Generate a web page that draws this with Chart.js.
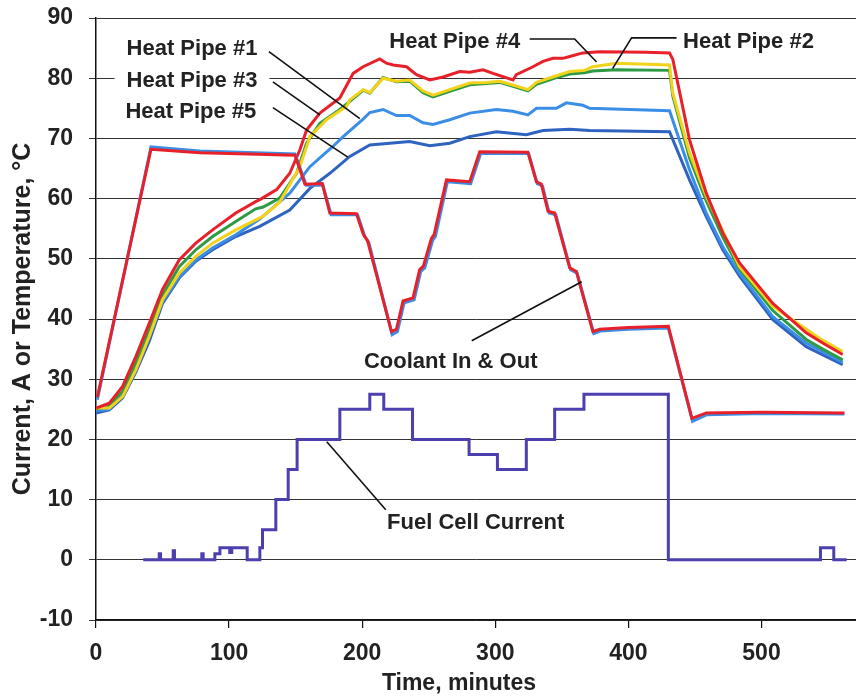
<!DOCTYPE html>
<html>
<head>
<meta charset="utf-8">
<script src="https://cdn.jsdelivr.net/npm/chart.js@4.4.1/dist/chart.umd.min.js"></script>
<style>
  html, body { margin: 0; padding: 0; background: #fff; }
  #wrap { width: 856px; height: 697px; position: relative; }
</style>
</head>
<body>
<div id="wrap"><canvas id="chart"></canvas></div>
<script>
// [minutes, value]
const heatPipe1 = [[0,24.8],[10,25.0],[20,27.3],[30,31.8],[40,37.0],[50,42.9],[62.5,47.0],[75,49.8],[87.6,51.8],[105,54.0],[123,56.6],
  [145.6,60.9],[160.7,65.3],[178.2,68.7],[185.7,70.3],[200.7,73.2],[205.7,74.3],[215.7,74.8],[225.7,73.8],[235.7,73.8],[245.7,72.6],
  [253.2,72.3],[265.8,73.1],[280.8,74.2],[300.8,74.8],[313.3,74.5],[324.5,73.9],[330.9,75.0],[345.9,75.0],[353.4,75.9],[365.8,75.5],
  [370.9,75.0],[400.9,74.8],[430.9,74.6],[445.9,64.8],[458.5,57.6],[470.9,52.0],[483.5,47.6],[508.5,40.4],[533.6,36.0],[561,32.8]];
const heatPipe2 = [[0,25.0],[10,25.6],[20,28.0],[30,32.8],[40,38.2],[50,44.0],[62.5,48.7],[75,51.5],[87.6,53.7],[105,56.2],[120,58.3],
  [125.6,58.6],[138,60.1],[150.7,64.2],[158.2,69.2],[168.2,72.5],[183.2,74.8],[193.2,76.6],[200.7,78.0],[205.7,77.5],[215.7,80.1],
  [225.7,79.4],[235.7,79.5],[245.7,77.6],[253.2,76.9],[265.8,77.8],[280.8,78.9],[293.3,79.1],[303.3,79.3],[315.8,78.5],[324.5,77.9],
  [330.9,79.0],[345.9,80.1],[355.9,80.7],[367.1,80.9],[373.3,81.2],[390.9,81.4],[430.9,81.3],[433.4,77.0],[445.9,66.8],[458.5,59.6],
  [470.9,53.6],[483.5,48.3],[508.5,41.4],[533.6,36.6],[546,35.0],[561,33.2]];
const heatPipe3 = [[0,25.2],[10,26.0],[20,28.8],[30,33.8],[40,39.3],[50,44.9],[62.5,49.8],[75,52.6],[87.6,54.8],[105,57.6],[120,59.5],
  [124.4,60.0],[135.7,61.5],[145.6,64.2],[153.2,68.1],[158.2,71.4],[168.2,74.2],[183.2,76.7],[193.2,80.8],[200.7,81.9],[213.2,83.2],
  [218.2,82.5],[223.2,82.2],[233.3,81.9],[240.8,80.6],[250.8,79.7],[260.8,80.2],[273.3,81.1],[280.8,81.0],[290.8,81.4],[298.3,80.8],
  [313.3,79.7],[315.8,80.6],[328.3,81.9],[335.8,82.8],[343.3,83.3],[350.8,83.3],[355.9,83.6],[365.8,84.2],[378.4,84.4],[413.4,84.3],
  [430.9,84.2],[433.4,83.1],[445.9,69.8],[458.5,60.9],[470.9,54.3],[483.5,49.3],[508.5,42.6],[533.6,37.7],[546,36.0],[561,34.1]];
const heatPipe4 = [[0,25.2],[10,25.2],[20,27.1],[30,31.6],[40,37.1],[50,43.2],[62.5,47.6],[75,50.4],[87.6,52.6],[105,54.8],[125,57.0],
  [138,59.4],[153.2,65.3],[160.7,70.3],[173.2,73.1],[188.2,75.3],[190.7,76.4],[200.7,78.1],[205.7,77.6],[215.7,80.0],[225.7,79.5],
  [235.7,79.7],[245.7,77.9],[253.2,77.2],[265.8,78.1],[280.8,79.2],[293.3,79.3],[303.3,79.5],[315.8,78.7],[324.5,78.1],[330.9,79.3],
  [345.9,80.4],[355.9,81.1],[367.1,81.3],[373.3,81.9],[390.9,82.5],[430.9,82.2],[433.4,77.5],[445.9,67.6],[458.5,60.4],[483.5,48.7],
  [508.5,42.1],[543.5,36.8],[561,34.6]];
const heatPipe5 = [[0,24.4],[10,24.9],[20,26.9],[30,31.2],[40,36.3],[50,42.6],[62.5,46.8],[75,49.6],[87.6,51.5],[105,53.7],[123,55.4],
  [145.6,58.1],[160.7,61.7],[175.7,64.2],[190.7,67.0],[205.7,68.9],[220.7,69.2],[235.7,69.5],[250.8,68.8],[265.8,69.2],[280.8,70.3],
  [300.8,71.1],[323.3,70.6],[335.8,71.3],[355.9,71.5],[370.9,71.3],[430.9,71.1],[445.9,63.1],[458.5,57.0],[470.9,51.5],[483.5,47.1],
  [508.5,39.9],[533.6,35.4],[561,32.4]];
const coolantOut = [[1,27.0],[41.3,68.2],[78,67.6],[149.5,67.2],[157,62.4],[170,62.5],[175.7,57.6],[195.7,57.5],[201,54.0],[204,53.0],
  [222,37.9],[225.7,38.3],[230.7,43.0],[238.2,43.5],[243.2,48.2],[246,48.8],[252,53.4],[254,54.0],[263.3,63.1],[280.8,62.8],[288.3,67.8],
  [324.5,67.7],[330.9,62.8],[334.6,62.4],[339.6,57.9],[344.6,57.6],[355.9,48.5],[360.9,47.9],[373.3,37.9],[378.4,38.3],[400,38.6],
  [430,38.8],[447.7,23.5],[458.5,24.4],[500,24.5],[562.3,24.4]];
const coolantIn = [[1,26.6],[41.3,68.6],[78,67.9],[149.5,67.4],[158,62.2],[170.5,62.2],[176.7,57.3],[196.5,57.3],[202,53.7],[205,52.7],
  [222.5,37.4],[226.5,37.9],[231.5,42.7],[239,43.2],[244,47.9],[247,48.5],[253,53.1],[255,53.7],[264,62.8],[281.5,62.5],[289,67.5],
  [325,67.5],[331.5,62.5],[335.5,62.1],[340.5,57.6],[345.5,57.3],[356.5,48.2],[361.5,47.6],[374,37.6],[379,38.0],[400,38.3],
  [430,38.5],[448.2,23.0],[459,24.1],[500,24.3],[562.3,24.2]];
// step changes: [minute the value changes, new value]
const fuelCellCurrent = [[35.5,0],[47.5,1],[48.5,0],[58,1.5],[59,0],[79.5,1],[80.5,0],[89.3,1],[93.1,2],[100.5,1.2],[102,2],[113.6,0],
  [123.1,2],[125.1,5],[135.1,10],[144.4,15],[151.1,20],[183.2,25],[205.7,27.5],[216.2,25],[237.8,20],[280.3,17.5],[301.6,15],
  [323.3,20],[344.6,25],[366.6,27.5],[430,0],[544.3,2],[554.3,0],[564,0]];

const xTicks = [0, 100, 200, 300, 400, 500];
const yMin = -10, yMax = 90;
const xTitle = 'Time, minutes';

// labels with leader lines, in data units
const notes = [
  { text: 'Heat Pipe #1', at: [72.1, 85.2], line: [[129.9, 84.4], [198.2, 73.3]] },
  { text: 'Heat Pipe #3', at: [72.1, 79.9], line: [[132.9, 79.4], [168.2, 73.9]] },
  { text: 'Heat Pipe #5', at: [71.3, 74.8], line: [[132.9, 75.1], [189.2, 66.9]] },
  { text: 'Heat Pipe #4', at: [269.5, 86.4], line: [[325.8, 86.5], [359.6, 86.5], [376.1, 82.7]] },
  { text: 'Heat Pipe #2', at: [490.2, 86.4], line: [[436.2, 86.7], [402.4, 86.7], [388.1, 81.6]] },
  { text: 'Coolant In & Out', at: [266.5, 33.2], line: [[282.3, 36.4], [364.9, 46.2]] },
  { text: 'Fuel Cell Current', at: [285.3, 6.5], line: [[217.7, 8.3], [173.4, 19.6]] }
];

const FONT = '"Liberation Sans", Arial, sans-serif';
const pts = arr => arr.map(p => ({ x: p[0], y: p[1] }));

function series(label, data, color, extra) {
  return Object.assign({
    label: label,
    data: pts(data),
    borderColor: color,
    backgroundColor: color,
    borderWidth: 3,
    pointRadius: 0,
    fill: false,
    tension: 0
  }, extra || {});
}

const whiteBg = {
  id: 'whiteBg',
  beforeDraw(chart) {
    const c = chart.ctx;
    c.save();
    c.fillStyle = '#fff';
    c.fillRect(0, 0, chart.width, chart.height);
    c.restore();
  }
};

const callouts = {
  id: 'callouts',
  afterDatasetsDraw(chart) {
    const c = chart.ctx, xs = chart.scales.x, ys = chart.scales.y;
    c.save();
    c.font = 'bold 22px ' + FONT;
    c.textAlign = 'center';
    c.textBaseline = 'middle';
    notes.forEach(n => {
      const tx = xs.getPixelForValue(n.at[0]), ty = ys.getPixelForValue(n.at[1]);
      const w = c.measureText(n.text).width;
      c.fillStyle = '#fff';
      c.fillRect(tx - w / 2 - 12, ty - 11, w + 24, 22);
      c.fillStyle = '#222';
      c.fillText(n.text, tx, ty + 2);
      c.strokeStyle = '#111';
      c.lineWidth = 1.6;
      c.beginPath();
      n.line.forEach((p, i) => {
        const px = xs.getPixelForValue(p[0]), py = ys.getPixelForValue(p[1]);
        if (i === 0) c.moveTo(px, py); else c.lineTo(px, py);
      });
      c.stroke();
    });

    // x axis title, sits a little left of the plot centre in the original
    const area = chart.chartArea;
    c.font = 'bold 23px ' + FONT;
    c.fillStyle = '#222';
    c.fillText(xTitle, (area.left + area.right) / 2 - 17, chart.height - 13);
    c.restore();
  }
};

document.addEventListener('DOMContentLoaded', () => {
  const ctx = document.getElementById('chart').getContext('2d');

  new Chart(ctx, {
    type: 'line',
    data: {
      datasets: [
        series('Fuel Cell Current', fuelCellCurrent, '#4c3fae', { stepped: true }),
        series('Coolant Out', coolantOut, '#e8202a'),
        series('Coolant In', coolantIn, '#3a8ee6'),
        series('Heat Pipe #3', heatPipe3, '#e8202a'),
        series('Heat Pipe #4', heatPipe4, '#f2d21b'),
        series('Heat Pipe #2', heatPipe2, '#2f9a46'),
        series('Heat Pipe #1', heatPipe1, '#3a8ee6'),
        series('Heat Pipe #5', heatPipe5, '#2f63c0')
      ]
    },
    options: {
      responsive: true,
      maintainAspectRatio: false,
      animation: false,
      layout: { padding: { top: 18, right: 0, left: 0, bottom: 0 } },
      plugins: {
        legend: { display: false },
        tooltip: { enabled: false }
      },
      scales: {
        x: {
          type: 'linear',
          min: 0,
          max: 571,
          afterBuildTicks: s => { s.ticks = xTicks.map(v => ({ value: v })); },
          afterFit: s => { s.height = 77; s.paddingLeft = 0; s.paddingRight = 0; },
          grid: { drawOnChartArea: false, drawTicks: true, tickLength: 8, color: '#111', lineWidth: 1.2 },
          border: { color: '#111', width: 1.5 },
          ticks: { color: '#222', padding: 12, maxRotation: 0, font: { family: FONT, size: 23, weight: 'bold' } },
          title: { display: false }
        },
        y: {
          min: yMin,
          max: yMax,
          afterFit: s => { s.width = 96; s.paddingTop = 0; s.paddingBottom = 0; },
          grid: { color: '#333', lineWidth: 1, tickLength: 7, drawTicks: true },
          border: { color: '#111', width: 1.5 },
          ticks: { stepSize: 10, color: '#222', padding: 16, font: { family: FONT, size: 23, weight: 'bold' } },
          title: {
            display: true,
            text: 'Current, A or Temperature, °C',
            color: '#222',
            padding: { top: 8, bottom: 0 },
            font: { family: FONT, size: 25, weight: 'bold' }
          }
        }
      }
    },
    plugins: [whiteBg, callouts]
  });
});
</script>
</body>
</html>
